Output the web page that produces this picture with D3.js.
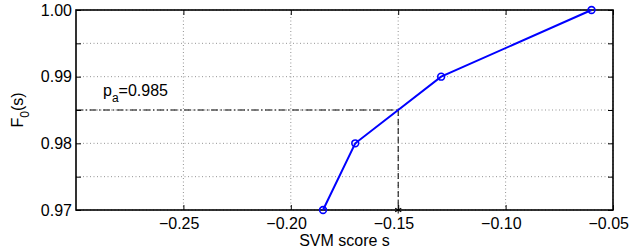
<!DOCTYPE html>
<html><head><meta charset="utf-8">
<script src="https://cdn.jsdelivr.net/npm/d3@7"></script>
<style>body{margin:0;background:#fff}svg{display:block}text{font-family:"Liberation Sans",Arial,sans-serif}</style>
</head><body><svg id="c" width="631" height="252"></svg>
<script>
const xs = [-0.185, -0.17, -0.13, -0.06];
const ys = [0.97, 0.98, 0.99, 1.00];
const xTicks = [-0.25, -0.20, -0.15, -0.10, -0.05];
const yTicks = [0.97, 0.975, 0.98, 0.985, 0.99, 0.995, 1.00];
const yLabelTicks = [0.97, 0.98, 0.99, 1.00];
const pa = 0.985, sa = -0.15;

const svg = d3.select("#c");
const L = 76, R = 613, T = 10, B = 210;
const FS = 16;
const x = d3.scaleLinear().domain([-0.30, -0.05]).range([L, R]);
const y = d3.scaleLinear().domain([0.97, 1.00]).range([B, T]);

// grid
const g = svg.append("g");
xTicks.forEach(t => g.append("line").attr("x1", x(t)).attr("x2", x(t)).attr("y1", T).attr("y2", B)
  .attr("stroke", "#777").attr("stroke-width", 0.8).attr("stroke-dasharray", "1,2.5"));
yTicks.forEach(t => g.append("line").attr("y1", y(t)).attr("y2", y(t)).attr("x1", L).attr("x2", R)
  .attr("stroke", "#777").attr("stroke-width", 0.8).attr("stroke-dasharray", "1,2.5"));

// axes (ticks inward)
const fmt = d3.format(".2f");
const axB = svg.append("g").attr("transform", `translate(0,${B})`)
  .call(d3.axisBottom(x).tickValues(xTicks).tickSize(-5).tickPadding(8).tickFormat(d => fmt(d).replace("-", "\u2212")));
const axT = svg.append("g").attr("transform", `translate(0,${T})`)
  .call(d3.axisTop(x).tickValues(xTicks).tickSize(-5).tickFormat(""));
const axL = svg.append("g").attr("transform", `translate(${L},0)`)
  .call(d3.axisLeft(y).tickValues(yTicks).tickSize(-5).tickPadding(4).tickFormat(d => yLabelTicks.some(v => Math.abs(v - d) < 1e-9) ? fmt(d) : ""));
const axR = svg.append("g").attr("transform", `translate(${R},0)`)
  .call(d3.axisRight(y).tickValues(yTicks).tickSize(-5).tickFormat(""));
[axB, axT, axL, axR].forEach(a => {
  a.select(".domain").remove();
  a.selectAll("line").attr("stroke", "#000").attr("stroke-width", 1);
  a.selectAll("text").attr("font-size", FS).attr("fill", "#000")
   .attr("font-family", '"Liberation Sans",Arial,sans-serif');
});
// bottom labels: numeric part centred on tick (MATLAB style)
axB.selectAll("text").attr("text-anchor", "end").attr("x", 15.5);
svg.append("rect").attr("x", L).attr("y", T).attr("width", R - L).attr("height", B - T)
  .attr("fill", "none").attr("stroke", "#000").attr("stroke-width", 1.6);

// reference lines
svg.append("line").attr("x1", L).attr("x2", x(sa)).attr("y1", y(pa)).attr("y2", y(pa))
  .attr("stroke", "#000").attr("stroke-width", 1).attr("stroke-dasharray", "7,2.5,1.5,2.5");
svg.append("line").attr("x1", x(sa)).attr("x2", x(sa)).attr("y1", y(pa)).attr("y2", B)
  .attr("stroke", "#000").attr("stroke-width", 1).attr("stroke-dasharray", "6,3");
// asterisk
const ast = svg.append("g").attr("transform", `translate(${x(sa)},${y(0.97)})`);
[0, 60, 120].forEach(a => ast.append("line").attr("x1", 0).attr("y1", -3.5).attr("x2", 0).attr("y2", 3.5)
  .attr("transform", `rotate(${a})`).attr("stroke", "#000").attr("stroke-width", 1));

// data line
const data = xs.map((v, i) => [v, ys[i]]);
svg.append("path").datum(data).attr("fill", "none").attr("stroke", "#0000ff").attr("stroke-width", 2)
  .attr("d", d3.line().x(d => x(d[0])).y(d => y(d[1])));
svg.selectAll("circle.pt").data(data).enter().append("circle").attr("class", "pt")
  .attr("cx", d => x(d[0])).attr("cy", d => y(d[1])).attr("r", 3.4)
  .attr("fill", "none").attr("stroke", "#0000ff").attr("stroke-width", 1.6);

// annotation
const ann = svg.append("text").attr("x", 103).attr("y", 96).attr("font-size", FS).attr("fill", "#000");
ann.append("tspan").text("p");
ann.append("tspan").attr("font-size", 12).attr("dy", 6).text("a");
ann.append("tspan").attr("dy", -6).text("=0.985");

// axis labels
svg.append("text").attr("x", (L + R) / 2).attr("y", 246).attr("text-anchor", "middle")
  .attr("font-size", FS).text("SVM score s");
const yl = svg.append("text").attr("transform", `translate(23,${(T + B) / 2}) rotate(-90)`)
  .attr("text-anchor", "middle").attr("font-size", FS);
yl.append("tspan").text("F");
yl.append("tspan").attr("font-size", 12).attr("dy", 6).text("0");
yl.append("tspan").attr("dy", -6).text("(s)");
</script></body></html>
